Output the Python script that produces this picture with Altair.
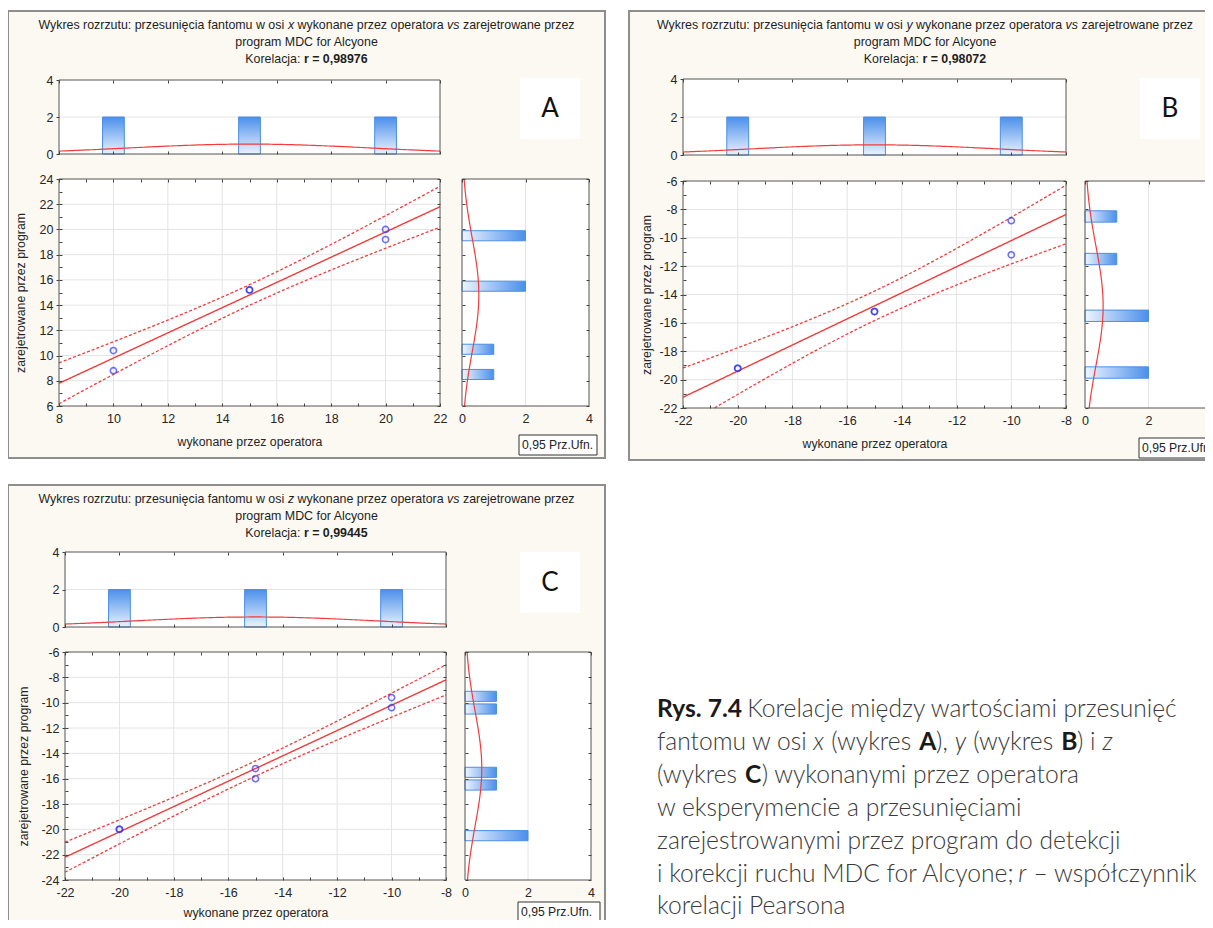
import altair as alt
import numpy as np
import pandas as pd

# ---------------- values ----------------
PANEL_KEYS = ["A", "B", "C"]
SHIFT_AXES = ["x", "y", "z"]
R_TEXT = ["r = 0,98976", "r = 0,98072", "r = 0,99445"]

TITLE_START = "Wykres rozrzutu: przesunięcia fantomu w osi "
TITLE_MID = " wykonane przez operatora "
TITLE_VS = "vs"
TITLE_END = " zarejetrowane przez"
TITLE_LINE2 = "program MDC for Alcyone"
TITLE_KOR = "Korelacja: "
X_TITLE = "wykonane przez operatora"
Y_TITLE = "zarejetrowane przez program"
CONF_TEXT = "0,95 Prz.Ufn."

# scatter: shift made by the operator (x) vs shift registered by the program (y)
OPER_A = [10, 10, 15, 15, 20, 20]
PROG_A = [10.4, 8.8, 15.2, 15.2, 20.0, 19.2]
OPER_B = [-20, -20, -15, -15, -10, -10]
PROG_B = [-19.2, -19.2, -15.2, -15.2, -8.8, -11.2]
OPER_C = [-20, -20, -15, -15, -10, -10]
PROG_C = [-20.0, -20.0, -15.2, -16.0, -9.6, -10.4]

# top histograms (operator values): bin start, bin end, count
TOP_LO_A = [9.6, 14.6, 19.6]
TOP_HI_A = [10.4, 15.4, 20.4]
TOP_N_A = [2, 2, 2]
TOP_LO_B = [-20.4, -15.4, -10.4]
TOP_HI_B = [-19.6, -14.6, -9.6]
TOP_N_B = [2, 2, 2]
TOP_LO_C = [-20.4, -15.4, -10.4]
TOP_HI_C = [-19.6, -14.6, -9.6]
TOP_N_C = [2, 2, 2]

# side histograms (program values): bin start, bin end, count
SIDE_LO_A = [19.1, 15.1, 10.1, 8.1]
SIDE_HI_A = [19.9, 15.9, 10.9, 8.9]
SIDE_N_A = [2, 2, 1, 1]
SIDE_LO_B = [-8.9, -11.9, -15.9, -19.9]
SIDE_HI_B = [-8.1, -11.1, -15.1, -19.1]
SIDE_N_B = [1, 1, 2, 2]
SIDE_LO_C = [-9.9, -10.9, -15.9, -16.9, -20.9]
SIDE_HI_C = [-9.1, -10.1, -15.1, -16.1, -20.1]
SIDE_N_C = [1, 1, 1, 1, 2]

X_TICKS_A = [8, 10, 12, 14, 16, 18, 20, 22]
Y_TICKS_A = [6, 8, 10, 12, 14, 16, 18, 20, 22, 24]
X_TICKS_B = [-22, -20, -18, -16, -14, -12, -10, -8]
Y_TICKS_B = [-22, -20, -18, -16, -14, -12, -10, -8, -6]
X_TICKS_C = [-22, -20, -18, -16, -14, -12, -10, -8]
Y_TICKS_C = [-24, -22, -20, -18, -16, -14, -12, -10, -8, -6]
COUNT_TICKS = [0, 2, 4]

CAPTION_TEXT = [
    ["Rys. 7.4", " Korelacje między wartościami przesunięć"],
    ["fantomu w osi ", "x", " (wykres ", "A", "), ", "y", " (wykres ", "B", ") i ", "z"],
    ["(wykres ", "C", ") wykonanymi przez operatora"],
    ["w eksperymencie a przesunięciami"],
    ["zarejestrowanymi przez program do detekcji"],
    ["i korekcji ruchu MDC for Alcyone; ", "r", " – współczynnik"],
    ["korelacji Pearsona"],
]
CAPTION_EMPH = [
    ["b", ""],
    ["", "i", "", "b", "", "i", "", "b", "", "i"],
    ["", "b", ""],
    [""],
    [""],
    ["", "i", ""],
    [""],
]

T_975_DF4 = 2.776445  # Student t quantile for the 95% band (n-2 = 4)

# ---------------- styling / layout ----------------
W, H = 1197, 912
FONT = "Liberation Sans"
CAP_FONT = "Lato"
RED = "#f23c3c"
BLUE_PT = "#3333f0"
GRID = "#e4e4e4"
BORDER = "#555555"
FRAME_FILL = "#fcf9f3"
FRAME_STROKE = "#8e8e8e"
TXT = "#1e1e1e"

LAYOUT = {
    "A": dict(frame=(0, 3, 597, 450), tcx=298.5, ty=(17, 34, 51), px=(51, 432),
              topy=(146, 72), mainy=(398, 171), sidex=(454, 581),
              letter=(512, 70, 572, 131), conf=(511, 427, 589, 447), ytx=-39, xty=35),
    "B": dict(frame=(621, 3, 1216, 452), tcx=917, ty=(17, 34, 51), px=(675, 1058),
              topy=(147, 71), mainy=(400, 173), sidex=(1077, 1204),
              letter=(1132, 70, 1192, 131), conf=(1131, 430, 1216, 450), ytx=-37, xty=35),
    "C": dict(frame=(0, 477, 597, 940), tcx=298.5, ty=(491, 508, 525), px=(57, 438),
              topy=(619, 544), mainy=(872, 644), sidex=(457, 583),
              letter=(512, 544, 572, 605), conf=(510, 894, 592, 925), ytx=-42, xty=32),
}

# Arial (Liberation Sans) advance widths, 1/1000 em
AR = {' ': 278, '!': 278, '(': 333, ')': 333, ',': 278, '-': 333, '.': 278, ':': 278,
      ';': 278, '=': 584, '–': 556,
      'A': 667, 'B': 667, 'C': 722, 'D': 722, 'E': 667, 'F': 611, 'G': 778, 'H': 722,
      'I': 278, 'J': 500, 'K': 667, 'L': 556, 'M': 833, 'N': 722, 'O': 778, 'P': 667,
      'Q': 778, 'R': 722, 'S': 667, 'T': 611, 'U': 722, 'V': 667, 'W': 944, 'X': 667,
      'Y': 667, 'Z': 611,
      'a': 556, 'b': 556, 'c': 500, 'd': 556, 'e': 556, 'f': 278, 'g': 556, 'h': 556,
      'i': 222, 'j': 222, 'k': 500, 'l': 222, 'm': 833, 'n': 556, 'o': 556, 'p': 556,
      'q': 556, 'r': 333, 's': 500, 't': 278, 'u': 556, 'v': 500, 'w': 722, 'x': 500,
      'y': 500, 'z': 500, 'ą': 556, 'ć': 500, 'ę': 556, 'ł': 222, 'ń': 556, 'ó': 556,
      'ś': 500, 'ź': 500, 'ż': 500}
AB = {' ': 278, '.': 278, ',': 278, '=': 584, 'A': 722, 'B': 722, 'C': 722, 'R': 722,
      'r': 389, 'y': 556, 's': 556}
# approximate Lato advance widths, 1/1000 em
LT = {' ': 260, 'a': 510, 'b': 560, 'c': 460, 'd': 560, 'e': 520, 'f': 320, 'g': 500,
      'h': 560, 'i': 240, 'j': 240, 'k': 500, 'l': 240, 'm': 840, 'n': 560, 'o': 560,
      'p': 560, 'q': 560, 'r': 370, 's': 430, 't': 350, 'u': 560, 'v': 500, 'w': 780,
      'x': 490, 'y': 500, 'z': 460, 'ą': 510, 'ć': 460, 'ę': 520, 'ł': 260, 'ń': 560,
      'ó': 560, 'ś': 430, 'ź': 460, 'ż': 460, 'A': 680, 'B': 650, 'C': 680, 'D': 730,
      'K': 640, 'M': 900, 'P': 600, 'R': 640, '(': 300, ')': 300, ',': 220, ';': 240,
      '.': 230, '–': 520}
LTB = {' ': 260, 'R': 650, 'y': 520, 's': 440, '.': 230, 'A': 700, 'B': 660, 'C': 690}


def tw(s, size, bold=False, fam="arial"):
    tot = 0
    for ch in s:
        if ch.isdigit():
            tot += 556 if fam == "arial" else 580
        elif fam == "arial":
            tot += AB.get(ch, AR.get(ch, 600) * 1.08) if bold else AR.get(ch, 556)
        else:
            tot += LTB.get(ch, LT.get(ch, 540) * 1.04) if bold else LT.get(ch, 540)
    return tot * size / 1000.0


def one_row():
    return alt.Data(values=[{"k": 0}])


def px_rect(x1, y1, x2, y2, **mk):
    return alt.Chart(one_row()).mark_rect(**mk).encode(
        x=alt.value(x1), x2=alt.value(x2), y=alt.value(y1), y2=alt.value(y2))


def px_text(s, x, y, size, font, color, weight="normal", style="normal", align="left"):
    return alt.Chart(alt.Data(values=[{"t": s}])).mark_text(
        align=align, baseline="middle", font=font, fontSize=size,
        fontWeight=weight, fontStyle=style, color=color
    ).encode(x=alt.value(x), y=alt.value(y), text="t:N")


def seg_text(segs, emph, x, y, size, font, color, k=1.0, align="left",
             base_w="normal", bold_w="bold", fam="arial", bold_color=None):
    widths = [tw(t, size, e == "b", fam) * k for t, e in zip(segs, emph)]
    cur = x - sum(widths) / 2 if align == "center" else x
    out = []
    for t, e, w in zip(segs, emph, widths):
        lead = len(t) - len(t.lstrip(" "))
        sx = cur + tw(" " * lead, size, False, fam) * k
        col = bold_color if (e == "b" and bold_color) else color
        out.append(px_text(t.strip(" "), sx, y, size, font, col,
                           weight=bold_w if e == "b" else base_w,
                           style="italic" if e == "i" else "normal"))
        cur += w
    return out


def sc(dom, rng):
    return alt.Scale(domain=list(dom), range=list(rng), zero=False, nice=False)


LBL = dict(labelFont=FONT, labelFontSize=12.5, labelColor="#262626",
           labelOverlap=False, labelFlush=False, labelExpr="'' + datum.value",
           domain=False, grid=False, zindex=1)


def axis_carrier(ch, dom, rng, **kw):
    df = pd.DataFrame({"v": [float(dom[0])]})
    ax = alt.Axis(**kw)
    if ch == "x":
        enc = {"x": alt.X("v:Q", scale=sc(dom, rng), axis=ax)}
    else:
        enc = {"y": alt.Y("v:Q", scale=sc(dom, rng), axis=ax)}
    return alt.Chart(df).mark_point(opacity=0).encode(**enc)


def inside_ticks(ch, dom, rng, values, edge, side, size=3):
    if ch == "x":
        orient, off = ("top", -edge) if side == "bottom" else ("bottom", edge - H)
    else:
        orient, off = ("right", edge - W) if side == "left" else ("left", -edge)
    return axis_carrier(ch, dom, rng, orient=orient, offset=off, values=list(values),
                        labels=False, ticks=True, tickSize=size, tickColor="#444444",
                        tickWidth=1, domain=False, grid=False, title=None, zindex=1)


def plot_box(xd, xr, yd, yr, fill):
    df = pd.DataFrame({"x0": [xd[0]], "x1": [xd[1]], "y0": [yd[0]], "y1": [yd[1]]})
    if fill:
        mk = alt.Chart(df).mark_rect(fill="white")
    else:
        mk = alt.Chart(df).mark_rect(fillOpacity=0, stroke=BORDER, strokeWidth=1)
    return mk.encode(x=alt.X("x0:Q", scale=sc(xd, xr), axis=None), x2="x1:Q",
                     y=alt.Y("y0:Q", scale=sc(yd, yr), axis=None), y2="y1:Q")


def grid_rules(ch, vals, xd, xr, yd, yr):
    if ch == "x":
        df = pd.DataFrame({"g": vals, "lo": yd[0], "hi": yd[1]})
        enc = dict(x=alt.X("g:Q", scale=sc(xd, xr), axis=None),
                   y=alt.Y("lo:Q", scale=sc(yd, yr), axis=None), y2="hi:Q")
    else:
        df = pd.DataFrame({"g": vals, "lo": xd[0], "hi": xd[1]})
        enc = dict(y=alt.Y("g:Q", scale=sc(yd, yr), axis=None),
                   x=alt.X("lo:Q", scale=sc(xd, xr), axis=None), x2="hi:Q")
    return alt.Chart(df).mark_rule(color=GRID, strokeWidth=1).encode(**enc)


def normal_fit(vals, lo, hi):
    v = np.asarray(vals, float)
    m, sd = v.mean(), v.std(ddof=1)
    g = np.linspace(lo, hi, 141)
    d = len(v) * np.exp(-0.5 * ((g - m) / sd) ** 2) / (sd * np.sqrt(2 * np.pi))
    return pd.DataFrame({"v": g, "d": d})


def regression(oper, prog, xd, yd):
    x = np.asarray(oper, float)
    y = np.asarray(prog, float)
    n = len(x)
    mx, my = x.mean(), y.mean()
    sxx = ((x - mx) ** 2).sum()
    b = ((x - mx) * (y - my)).sum() / sxx
    a = my - b * mx
    s = np.sqrt(((y - (a + b * x)) ** 2).sum() / (n - 2))
    g = np.linspace(xd[0], xd[1], 801)
    f = a + b * g
    h = T_975_DF4 * s * np.sqrt(1.0 / n + (g - mx) ** 2 / sxx)
    out = {}
    for name, vals in (("fit", f), ("lo", f - h), ("hi", f + h)):
        keep = (vals >= min(yd)) & (vals <= max(yd))
        out[name] = pd.DataFrame({"x": g[keep], "y": vals[keep]})
    return out


TOP_GRAD = alt.Gradient(gradient="linear", x1=0, y1=0, x2=0, y2=1,
                        stops=[alt.GradientStop(color="#4b8fea", offset=0),
                               alt.GradientStop(color="#eaf3fe", offset=1)])
SIDE_GRAD = alt.Gradient(gradient="linear", x1=0, y1=0, x2=1, y2=0,
                         stops=[alt.GradientStop(color="#eef5fe", offset=0),
                                alt.GradientStop(color="#4b8fea", offset=1)])

DATA = {
    "A": dict(oper=OPER_A, prog=PROG_A, xt=X_TICKS_A, yt=Y_TICKS_A,
              top=(TOP_LO_A, TOP_HI_A, TOP_N_A), side=(SIDE_LO_A, SIDE_HI_A, SIDE_N_A)),
    "B": dict(oper=OPER_B, prog=PROG_B, xt=X_TICKS_B, yt=Y_TICKS_B,
              top=(TOP_LO_B, TOP_HI_B, TOP_N_B), side=(SIDE_LO_B, SIDE_HI_B, SIDE_N_B)),
    "C": dict(oper=OPER_C, prog=PROG_C, xt=X_TICKS_C, yt=Y_TICKS_C,
              top=(TOP_LO_C, TOP_HI_C, TOP_N_C), side=(SIDE_LO_C, SIDE_HI_C, SIDE_N_C)),
}

TITLE_KW = dict(titleFont=FONT, titleFontSize=12.3, titleFontWeight="normal",
                titleColor="#262626", titleBaseline="middle", titleAlign="center")


def panel(i):
    key = PANEL_KEYS[i]
    L = LAYOUT[key]
    D = DATA[key]
    layers = []
    fx1, fy1, fx2, fy2 = L["frame"]
    layers.append(px_rect(fx1, fy1, fx2, fy2, fill=FRAME_FILL, stroke=FRAME_STROKE, strokeWidth=2))

    # titles
    tsize = 12.4
    layers += seg_text([TITLE_START, SHIFT_AXES[i], TITLE_MID, TITLE_VS, TITLE_END],
                       ["", "i", "", "i", ""], L["tcx"], L["ty"][0], tsize, FONT, TXT,
                       align="center")
    layers.append(px_text(TITLE_LINE2, L["tcx"], L["ty"][1], tsize, FONT, TXT, align="center"))
    layers += seg_text([TITLE_KOR, R_TEXT[i]], ["", "b"], L["tcx"], L["ty"][2], tsize,
                       FONT, TXT, align="center")

    xd = (D["xt"][0], D["xt"][-1])
    yd = (D["yt"][0], D["yt"][-1])
    xr = L["px"]
    yr = L["mainy"]
    cd = (0, 4)
    tr = L["topy"]
    sr = L["sidex"]
    minor_x = list(range(int(xd[0]), int(xd[1]) + 1))
    minor_y = list(range(int(yd[0]), int(yd[1]) + 1))

    # ---- top histogram ----
    layers.append(plot_box(xd, xr, cd, tr, True))
    layers.append(grid_rules("y", [2], xd, xr, cd, tr))
    lo, hi, n = D["top"]
    tdf = pd.DataFrame({"lo": lo, "hi": hi, "n": n, "z": 0})
    layers.append(alt.Chart(tdf).mark_rect(fill=TOP_GRAD, stroke="#4d8ee6", strokeWidth=1).encode(
        x=alt.X("lo:Q", scale=sc(xd, xr), axis=None), x2="hi:Q",
        y=alt.Y("n:Q", scale=sc(cd, tr), axis=None), y2="z:Q"))
    ndf = normal_fit(D["oper"], xd[0], xd[1])
    layers.append(alt.Chart(ndf).mark_line(color=RED, strokeWidth=1.2).encode(
        x=alt.X("v:Q", scale=sc(xd, xr), axis=None),
        y=alt.Y("d:Q", scale=sc(cd, tr), axis=None)))
    layers.append(plot_box(xd, xr, cd, tr, False))
    layers.append(axis_carrier("y", cd, tr, orient="left", offset=-xr[0], values=COUNT_TICKS,
                               ticks=True, tickSize=3, tickColor="#444444", labelPadding=3,
                               title=None, **LBL))
    layers.append(inside_ticks("x", xd, xr, D["xt"], tr[0], "bottom"))
    layers.append(inside_ticks("x", xd, xr, D["xt"], tr[1], "top"))

    # ---- scatter ----
    layers.append(plot_box(xd, xr, yd, yr, True))
    layers.append(grid_rules("x", D["xt"][1:-1], xd, xr, yd, yr))
    layers.append(grid_rules("y", D["yt"][1:-1], xd, xr, yd, yr))
    reg = regression(D["oper"], D["prog"], xd, yd)
    for name in ("lo", "hi"):
        layers.append(alt.Chart(reg[name]).mark_line(color=RED, strokeWidth=1.3,
                                                     strokeDash=[3, 2]).encode(
            x=alt.X("x:Q", scale=sc(xd, xr), axis=None),
            y=alt.Y("y:Q", scale=sc(yd, yr), axis=None)))
    layers.append(alt.Chart(reg["fit"]).mark_line(color=RED, strokeWidth=1.4).encode(
        x=alt.X("x:Q", scale=sc(xd, xr), axis=None),
        y=alt.Y("y:Q", scale=sc(yd, yr), axis=None)))
    pdf = pd.DataFrame({"oper": D["oper"], "prog": D["prog"]})
    layers.append(alt.Chart(pdf).mark_point(shape="circle", filled=False, size=38,
                                            strokeWidth=1.6, color=BLUE_PT).encode(
        x=alt.X("oper:Q", scale=sc(xd, xr), axis=None),
        y=alt.Y("prog:Q", scale=sc(yd, yr), axis=None)))
    layers.append(plot_box(xd, xr, yd, yr, False))
    layers.append(axis_carrier("x", xd, xr, orient="bottom", offset=yr[0] - H, values=D["xt"],
                               ticks=False, labelPadding=6, title=X_TITLE,
                               titleX=(xr[0] + xr[1]) / 2, titleY=L["xty"], titleAngle=0,
                               **TITLE_KW, **LBL))
    layers.append(axis_carrier("y", yd, yr, orient="left", offset=-xr[0], values=D["yt"],
                               ticks=True, tickSize=3, tickColor="#444444", labelPadding=3,
                               title=Y_TITLE, titleX=L["ytx"], titleY=(yr[0] + yr[1]) / 2,
                               titleAngle=270, **TITLE_KW, **LBL))
    layers.append(inside_ticks("x", xd, xr, minor_x, yr[0], "bottom"))
    layers.append(inside_ticks("x", xd, xr, minor_x, yr[1], "top"))
    layers.append(inside_ticks("y", yd, yr, minor_y, xr[0], "left"))
    layers.append(inside_ticks("y", yd, yr, minor_y, xr[1], "right"))

    # ---- side histogram ----
    layers.append(plot_box(cd, sr, yd, yr, True))
    layers.append(grid_rules("x", [2], cd, sr, yd, yr))
    lo, hi, n = D["side"]
    sdf = pd.DataFrame({"lo": lo, "hi": hi, "n": n, "z": 0})
    layers.append(alt.Chart(sdf).mark_rect(fill=SIDE_GRAD, stroke="#4d8ee6", strokeWidth=1).encode(
        y=alt.Y("lo:Q", scale=sc(yd, yr), axis=None), y2="hi:Q",
        x=alt.X("z:Q", scale=sc(cd, sr), axis=None), x2="n:Q"))
    ndf = normal_fit(D["prog"], yd[0], yd[1])
    layers.append(alt.Chart(ndf).mark_line(color=RED, strokeWidth=1.2).encode(
        x=alt.X("d:Q", scale=sc(cd, sr), axis=None),
        y=alt.Y("v:Q", scale=sc(yd, yr), axis=None),
        order="v:Q"))
    layers.append(plot_box(cd, sr, yd, yr, False))
    layers.append(axis_carrier("x", cd, sr, orient="bottom", offset=yr[0] - H,
                               values=COUNT_TICKS, ticks=False, labelPadding=6, title=None, **LBL))
    layers.append(inside_ticks("y", yd, yr, D["yt"], sr[0], "left"))
    layers.append(inside_ticks("y", yd, yr, D["yt"], sr[1], "right"))
    layers.append(inside_ticks("x", cd, sr, COUNT_TICKS, yr[1], "top"))

    # ---- letter box and confidence legend ----
    lx1, ly1, lx2, ly2 = L["letter"]
    layers.append(px_rect(lx1, ly1, lx2, ly2, fill="white"))
    layers.append(px_text(key, (lx1 + lx2) / 2, (ly1 + ly2) / 2, 26, CAP_FONT, "#111111",
                          align="center"))
    cx1, cy1, cx2, cy2 = L["conf"]
    layers.append(px_rect(cx1, cy1, cx2, cy2, fill="white", stroke="#333333", strokeWidth=1))
    layers.append(px_text(CONF_TEXT, cx1 + 3, (cy1 + 10), 12.2, FONT, "#222222"))
    return layers


all_layers = []
for i in range(3):
    all_layers += panel(i)

# caption
CAP_SIZE = 24.6
CAP_K = 0.978
for j, (segs, emph) in enumerate(zip(CAPTION_TEXT, CAPTION_EMPH)):
    all_layers += seg_text(segs, emph, 649, 702 + 32.9 * j, CAP_SIZE, CAP_FONT, "#3a3a3a",
                           k=CAP_K, base_w=300, bold_w=700, fam="lato",
                           bold_color="#1a1a1a")

chart = alt.layer(*all_layers).resolve_scale(
    x="independent", y="independent"
).resolve_axis(
    x="independent", y="independent"
).properties(
    width=W, height=H, padding=0, background="white",
    autosize=alt.AutoSizeParams(type="none")
).configure_view(strokeWidth=0)

chart.save("out.html", embed_options={"renderer": "svg", "actions": False})
